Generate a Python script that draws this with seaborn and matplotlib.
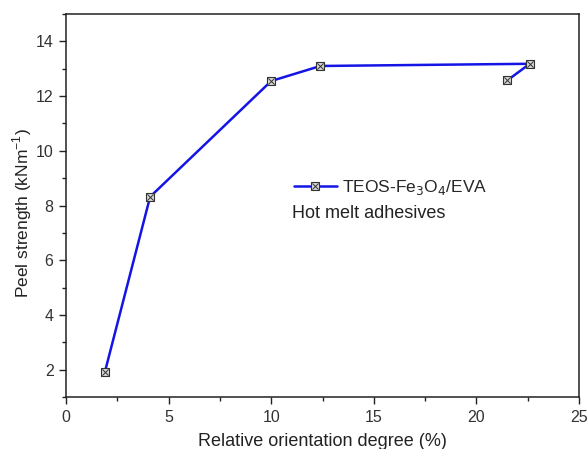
import matplotlib
matplotlib.use("Agg")
import matplotlib.pyplot as plt
from matplotlib.ticker import MultipleLocator
from matplotlib.lines import Line2D
import seaborn as sns
import pandas as pd

# Peel strength vs. relative orientation degree (in measurement order)
orientation = [1.9, 4.1, 10.0, 12.4, 22.6, 21.5]
peel_strength = [1.93, 8.32, 12.55, 13.1, 13.18, 12.57]
series_label = "TEOS-Fe$_3$O$_4$/EVA"
note = "Hot melt adhesives"

df = pd.DataFrame({"x": orientation, "y": peel_strength})

sns.set_theme(style="ticks")
plt.rcParams["font.family"] = ["Liberation Sans", "DejaVu Sans"]

fig = plt.figure(figsize=(5.88, 4.49), dpi=100)
ax = fig.add_axes([66 / 588, 52 / 449, 513 / 588, 383 / 449])

blue = "#1414e6"
sns.lineplot(data=df, x="x", y="y", sort=False, color=blue, linewidth=1.8,
             estimator=None, ax=ax, zorder=2)
# crossed-square markers
ax.scatter(df["x"], df["y"], marker="s", s=36, facecolor="#d8d8d8",
           edgecolor="#333333", linewidth=0.8, zorder=3)
ax.scatter(df["x"], df["y"], marker="x", s=20, color="#333333",
           linewidth=0.7, zorder=4)

ax.set_xlim(0, 25)
ax.set_ylim(1, 15)
ax.xaxis.set_major_locator(MultipleLocator(5))
ax.xaxis.set_minor_locator(MultipleLocator(2.5))
ax.yaxis.set_minor_locator(MultipleLocator(1))
ax.set_yticks([2, 4, 6, 8, 10, 12, 14])

ax.tick_params(which="major", direction="out", length=5, width=1,
               labelsize=11.5, colors="#222222", labelcolor="#333333", pad=4)
ax.tick_params(which="minor", direction="out", length=3, width=1,
               colors="#222222")
ax.tick_params(top=False, right=False, which="both")
for s in ax.spines.values():
    s.set_linewidth(1.1)
    s.set_color("#222222")

ax.set_xlabel("Relative orientation degree (%)", fontsize=13,
              color="#222222", labelpad=6)
ax.set_ylabel("Peel strength (kNm$^{\\mathregular{-1}}$)", fontsize=12.5,
              color="#222222")
ax.yaxis.set_label_coords(-0.063, 0.48)

h_line = Line2D([], [], color=blue, linewidth=1.8, marker="s",
                markersize=5.5, markerfacecolor="#d8d8d8",
                markeredgecolor="#333333", markeredgewidth=0.8)
h_cross = Line2D([], [], linestyle="none", marker="x", markersize=4,
                 color="#333333", markeredgewidth=0.7)
leg = ax.legend([(h_line, h_cross)], [series_label], loc="upper left",
                bbox_to_anchor=(0.43, 0.59), frameon=False, fontsize=12.5,
                handlelength=2.5, handletextpad=0.3, borderaxespad=0)
ax.text(0.44, 0.48, note, transform=ax.transAxes, fontsize=13,
        color="#222222", va="center", ha="left")

fig.savefig("out.png", dpi=100)
